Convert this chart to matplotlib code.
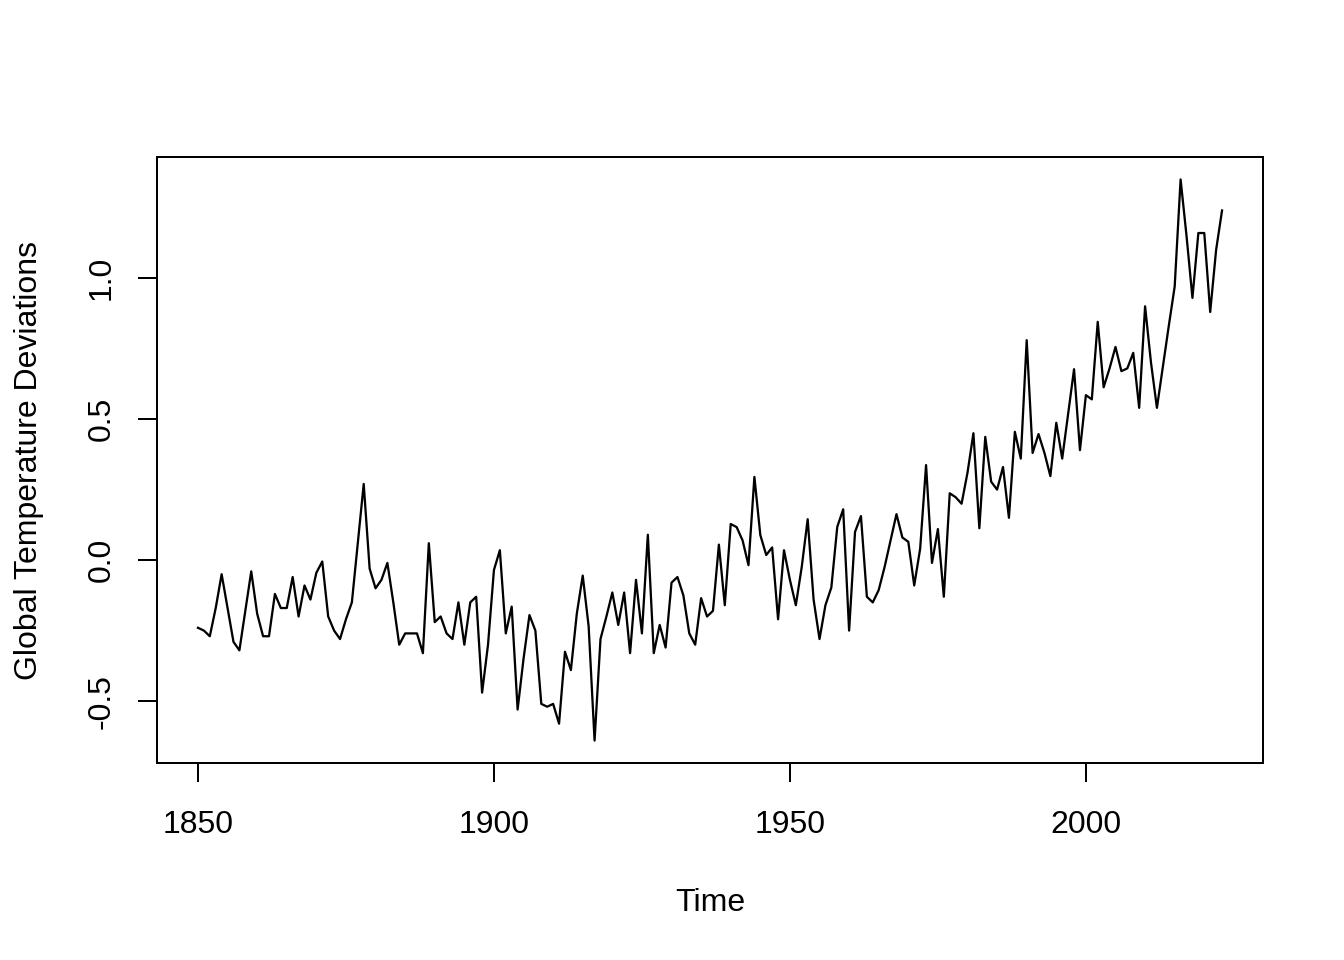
import numpy as np
import matplotlib
matplotlib.use("Agg")
import matplotlib.pyplot as plt

plt.rcParams['font.family'] = ['Liberation Sans', 'DejaVu Sans']

# annual global temperature deviations, 1850-2023
start_year = 1850
gtemp = [
    -0.24, -0.25, -0.27, -0.17, -0.05, -0.17, -0.29, -0.32, -0.18, -0.04,   # 1850s
    -0.19, -0.27, -0.27, -0.12, -0.17, -0.17, -0.06, -0.20, -0.09, -0.14,   # 1860s
    -0.045, -0.005, -0.20, -0.25, -0.28, -0.21, -0.15, 0.06, 0.27, -0.03,   # 1870s
    -0.10, -0.07, -0.01, -0.15, -0.30, -0.26, -0.26, -0.26, -0.33, 0.06,    # 1880s
    -0.22, -0.20, -0.26, -0.28, -0.15, -0.30, -0.15, -0.13, -0.47, -0.30,   # 1890s
    -0.035, 0.035, -0.26, -0.165, -0.53, -0.35, -0.195, -0.25, -0.51, -0.52,  # 1900s
    -0.51, -0.58, -0.325, -0.39, -0.19, -0.055, -0.235, -0.64, -0.28, -0.20,  # 1910s
    -0.115, -0.23, -0.115, -0.33, -0.07, -0.26, 0.09, -0.33, -0.23, -0.31,  # 1920s
    -0.08, -0.06, -0.125, -0.26, -0.30, -0.135, -0.20, -0.18, 0.055, -0.16, # 1930s
    0.128, 0.117, 0.07, -0.018, 0.295, 0.089, 0.018, 0.045, -0.21, 0.035,   # 1940s
    -0.07, -0.16, -0.024, 0.145, -0.14, -0.28, -0.16, -0.097, 0.118, 0.18,  # 1950s
    -0.25, 0.10, 0.156, -0.13, -0.15, -0.106, -0.024, 0.07, 0.163, 0.08,    # 1960s
    0.065, -0.09, 0.04, 0.337, -0.01, 0.11, -0.13, 0.237, 0.223, 0.20,      # 1970s
    0.31, 0.45, 0.113, 0.437, 0.278, 0.25, 0.33, 0.15, 0.455, 0.36,         # 1980s
    0.78, 0.38, 0.447, 0.38, 0.298, 0.487, 0.36, 0.52, 0.677, 0.39,         # 1990s
    0.585, 0.57, 0.845, 0.613, 0.68, 0.756, 0.67, 0.68, 0.735, 0.54,        # 2000s
    0.90, 0.70, 0.54, 0.685, 0.83, 0.97, 1.35, 1.15, 0.93, 1.16,            # 2010s
    1.16, 0.88, 1.10, 1.24,                                                 # 2020s
]
years = start_year + np.arange(len(gtemp))

x_ticks = [1850, 1900, 1950, 2000]
y_ticks = [-0.5, 0.0, 0.5, 1.0]

fig = plt.figure(figsize=(7, 5), dpi=192)
ax = fig.add_axes([157 / 1344, 1 - 763 / 960, (1263 - 157) / 1344, (763 - 157) / 960])

ax.plot(years, gtemp, color='black', lw=0.85)

# R style 4% padding
xr = years[-1] - years[0]
ax.set_xlim(years[0] - 0.04 * xr, years[-1] + 0.04 * xr)
yr = max(gtemp) - min(gtemp)
ax.set_ylim(min(gtemp) - 0.04 * yr, max(gtemp) + 0.04 * yr)

ax.set_xticks(x_ticks)
ax.set_yticks(y_ticks)
ax.set_yticklabels([f'{v:.1f}' for v in y_ticks], rotation=90, va='center')
ax.tick_params(direction='out', length=7.2, width=0.75, labelsize=12, pad=10.5)
ax.tick_params(axis='y', pad=8)
for s in ax.spines.values():
    s.set_linewidth(0.75)

ax.set_xlabel('Time', fontsize=12, labelpad=18)
ax.set_ylabel('Global Temperature Deviations', fontsize=12, labelpad=16)

fig.savefig('out.png', dpi=192)
